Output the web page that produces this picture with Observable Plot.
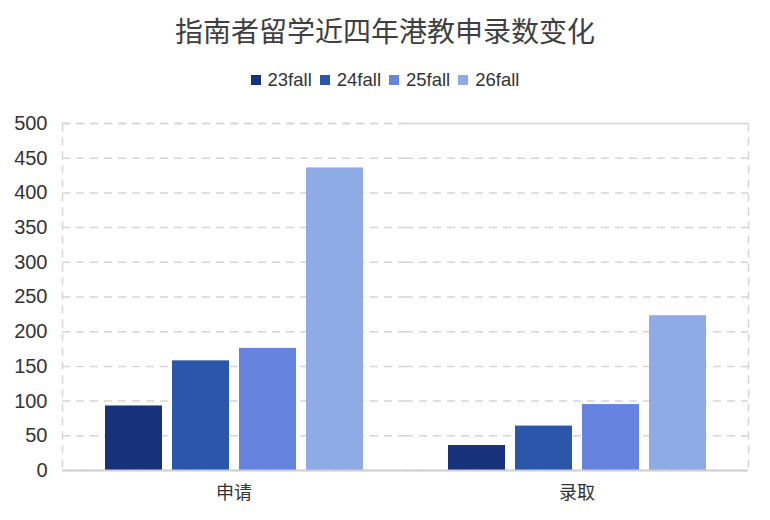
<!DOCTYPE html>
<html>
<head>
<meta charset="utf-8">
<script src="https://cdn.jsdelivr.net/npm/d3@7"></script>
<script src="https://cdn.jsdelivr.net/npm/@observablehq/plot@0.6"></script>
<style>
  html, body { margin: 0; padding: 0; background: #fff; }
  body { width: 770px; height: 520px; overflow: hidden; font-family: "Liberation Sans", "Noto Sans CJK SC", sans-serif; }
  #title { position: absolute; left: 0; top: 12px; width: 770px; text-align: center; font-size: 28px; color: #3f3f3f; font-family: "Noto Sans CJK SC", "Liberation Sans", sans-serif; line-height: 36px; }
  #legend { position: absolute; left: 0; top: 68px; width: 770px; display: flex; justify-content: center; font-size: 18.5px; color: #333; line-height: 24px; }
  #legend .item { display: flex; align-items: center; margin: 0 4px; }
  #legend .sw { width: 10px; height: 10px; margin-right: 7px; }
  #chart { position: absolute; left: 0; top: 100px; }
</style>
</head>
<body>
<div id="title">指南者留学近四年港教申录数变化</div>
<div id="legend"></div>
<div id="chart"></div>
<script>
const groups = ["申请", "录取"];
const seriesNames = ["23fall", "24fall", "25fall", "26fall"];
const seriesColors = ["#17327a", "#2a57aa", "#6683e0", "#8eabe6"];
const applyValues = [93, 158, 176, 436];
const admitValues = [36, 64, 95, 223];
const yTicks = [0, 50, 100, 150, 200, 250, 300, 350, 400, 450, 500];

const valuesByGroup = {"申请": applyValues, "录取": admitValues};
const data = groups.flatMap(g => seriesNames.map((s, i) => ({group: g, series: s, value: valuesByGroup[g][i]})));

// legend
const legend = document.getElementById("legend");
seriesNames.forEach((s, i) => {
  const item = document.createElement("div");
  item.className = "item";
  const sw = document.createElement("span");
  sw.className = "sw";
  sw.style.background = seriesColors[i];
  const t = document.createElement("span");
  t.textContent = s;
  item.appendChild(sw);
  item.appendChild(t);
  legend.appendChild(item);
});

const plot = Plot.plot({
  width: 770,
  height: 420,
  marginTop: 23,
  marginBottom: 50,
  marginLeft: 62,
  marginRight: 22,
  style: {fontFamily: "\"Liberation Sans\", \"Noto Sans CJK SC\", sans-serif", color: "#333", background: "#fff"},
  fx: {domain: groups, padding: 0, label: null, axis: null},
  x: {domain: seriesNames, paddingInner: 0.15, paddingOuter: 0.62, axis: null},
  y: {domain: [0, 500], ticks: yTicks, label: null, axis: null},
  color: {domain: seriesNames, range: seriesColors},
  marks: [
    Plot.ruleY(yTicks.filter(d => d > 0), {stroke: "#d6d6d6", strokeWidth: 1.5, strokeDasharray: "8,6"}),
    Plot.frame({facet: "super", stroke: "#d6d6d6", strokeWidth: 1.5, strokeDasharray: "8,6"}),
    Plot.barY(data, {fx: "group", x: "series", y: "value", fill: "series"}),
    Plot.ruleY([0], {stroke: "#cfcfcf", strokeWidth: 2}),
    Plot.axisY({ticks: yTicks, tickSize: 0, tickPadding: 15, fontSize: 20, fill: "#333", label: null}),
    Plot.axisFx({anchor: "bottom", tickSize: 0, tickPadding: 16, fontSize: 18, fill: "#333", label: null, fontFamily: "\"Noto Sans CJK SC\", sans-serif"})
  ]
});
document.getElementById("chart").appendChild(plot);
</script>
</body>
</html>
